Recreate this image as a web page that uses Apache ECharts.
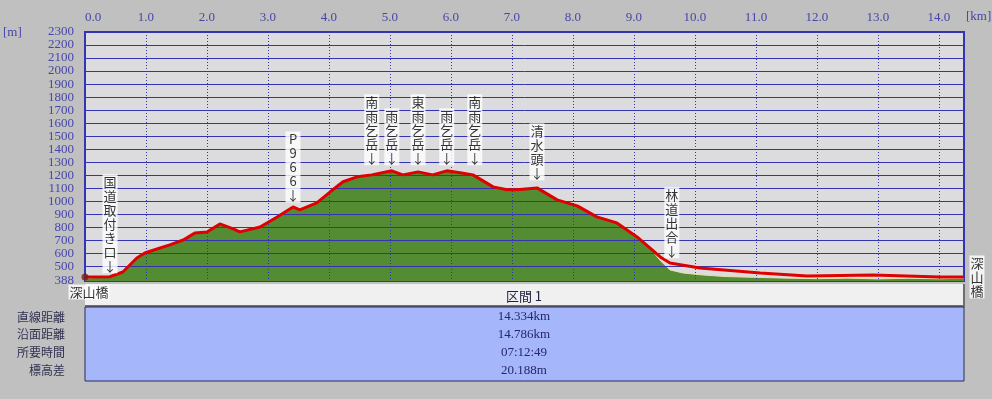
<!DOCTYPE html>
<html>
<head>
<meta charset="utf-8">
<script src="https://cdn.jsdelivr.net/npm/echarts@6.0.0/dist/echarts.min.js"></script>
<style>
html, body { margin: 0; padding: 0; background: #c0c0c0; }
#chart { width: 992px; height: 399px; }
</style>
</head>
<body>
<div id="chart"></div>
<script>
// 登山ルートの断面図 (距離 km / 標高 m)
const trackKm = [0, 0.41, 0.62, 0.85, 0.98, 1.18, 1.39, 1.61, 1.67, 1.80, 2.00, 2.21, 2.43, 2.54, 2.87, 3.15, 3.41, 3.52, 3.80, 4.02,
    4.23, 4.46, 4.70, 5.03, 5.21, 5.46, 5.70, 5.93, 6.15, 6.36, 6.69, 6.92, 7.08, 7.41, 7.74, 8.07, 8.39, 8.72, 9.05, 9.26,
    9.43, 9.59, 10.08, 11.07, 11.84, 12.92, 14.02, 14.41];
const trackEle = [419, 421, 457, 565, 603, 634, 665, 703, 719, 757, 765, 826, 788, 765, 803, 880, 957, 934, 988, 1073,
    1150, 1188, 1203, 1234, 1203, 1226, 1203, 1234, 1219, 1203, 1111, 1088, 1088, 1103, 1011, 965, 880, 834, 726, 642,
    573, 526, 488, 450, 426, 434, 419, 419];

// 地形 (緑) は 9.26km まで軌跡と同じ、その先は低い
const groundTailKm = [9.43, 9.59, 9.80, 10.08, 10.50, 11.07, 11.50, 12.00, 12.50, 13.00, 13.50, 14.00, 14.41];
const groundTailEle = [545, 473, 450, 436, 422, 415, 410, 406, 410, 404, 409, 405, 410];

const yTicks = [388, 500, 600, 700, 800, 900, 1000, 1100, 1200, 1300, 1400, 1500, 1600, 1700, 1800, 1900, 2000, 2100, 2200, 2300];

const annoNames = ['国道取付き口', 'P966', '南雨乞岳', '雨乞岳', '東雨乞岳', '雨乞岳', '南雨乞岳', '清水頭', '林道出合'];
const annoKm = [0.41, 3.41, 4.70, 5.03, 5.46, 5.93, 6.39, 7.41, 9.62];
const annoEle = [421, 957, 1203, 1234, 1226, 1234, 1203, 1103, 520];

const endNames = ['深山橋', '深山橋'];
const endKm = [0, 14.41];
const endEle = [419, 419];

const sectionName = '区間 1';
const statLabels = ['直線距離', '沿面距離', '所要時間', '標高差'];
const statValues = ['14.334km', '14.786km', '07:12:49', '20.188m'];

const chart = echarts.init(document.getElementById('chart'));

const trackData = trackKm.map((k, i) => [k, trackEle[i]]);
const cut = trackKm.indexOf(9.26) + 1;
const groundData = trackData.slice(0, cut).concat(groundTailKm.map((k, i) => [k, groundTailEle[i]]));
groundData[0] = [0, 410];

const axisColor = '#4646aa';
const lineBlue = '#3434b0';
const cjk = '"Noto Sans CJK JP", sans-serif';
const serif = '"Liberation Serif", serif';
// 矢印と線の間隔 (px)
const annoGap = [3, 4, 9, 5, 6, 5, 9, 7, 5];

const tagLabel = {
    show: true,
    fontFamily: cjk,
    fontSize: 13,
    lineHeight: 14,
    color: '#000',
    backgroundColor: '#ffffff',
    padding: [1, 1, 0, 1]
};

const option = {
    backgroundColor: '#c0c0c0',
    animation: false,
    grid: {
        left: 85,
        right: 28,
        top: 32,
        bottom: 118,
        show: true,
        backgroundColor: '#dcdcdf',
        borderColor: lineBlue,
        borderWidth: 2
    },
    xAxis: {
        type: 'value',
        position: 'top',
        min: 0,
        max: 14.41,
        interval: 1,
        z: 3,
        axisLine: { show: false },
        axisTick: { show: false },
        axisLabel: {
            color: axisColor,
            fontFamily: serif,
            fontSize: 13,
            margin: 8,
            showMaxLabel: false,
            alignMinLabel: 'left',
            formatter: v => (Math.abs(v - Math.round(v)) < 1e-6 ? v.toFixed(1) : '')
        },
        splitLine: { show: true, lineStyle: { color: lineBlue, width: 1, type: [1, 2] } }
    },
    yAxis: {
        type: 'value',
        min: 388,
        max: 2300,
        z: 3,
        axisLine: { show: false },
        axisTick: { show: false, customValues: yTicks },
        axisLabel: {
            customValues: yTicks,
            color: axisColor,
            fontFamily: serif,
            fontSize: 13,
            margin: 11,
            formatter: v => String(v)
        },
        splitLine: { show: true, lineStyle: { color: lineBlue, width: 1 } }
    },
    series: [
        {
            name: '地形',
            type: 'line',
            data: groundData,
            symbol: 'none',
            z: 2,
            lineStyle: { width: 1, color: '#e8e0b0' },
            areaStyle: { color: '#548c34', opacity: 1, origin: 'start' }
        },
        {
            name: '軌跡',
            type: 'line',
            data: trackData,
            symbol: 'none',
            z: 4,
            lineStyle: { width: 3, color: '#e00000' }
        },
        {
            name: '地点',
            type: 'scatter',
            z: 5,
            symbolSize: 1,
            itemStyle: { color: 'rgba(0,0,0,0)' },
            data: annoNames.map((n, i) => ({
                name: n,
                value: [annoKm[i], annoEle[i]],
                label: { distance: annoGap[i] }
            })),
            label: Object.assign({}, tagLabel, {
                position: 'top',
                formatter: p => p.name.split('').join('\n') + '\n↓'
            })
        },
        {
            name: '起終点',
            type: 'scatter',
            z: 6,
            data: [
                {
                    name: endNames[0], value: [endKm[0], endEle[0]],
                    symbol: 'circle', symbolSize: 7, itemStyle: { color: '#7a1a1a' },
                    label: { position: 'bottom', distance: 4, offset: [4, 0], formatter: p => p.name }
                },
                {
                    name: endNames[1], value: [endKm[1], endEle[1]],
                    symbolSize: 1, itemStyle: { color: 'rgba(0,0,0,0)' },
                    label: { position: 'right', distance: 5, formatter: p => p.name.split('').join('\n') }
                }
            ],
            label: tagLabel
        }
    ],
    graphic: [
        { type: 'text', left: 3, top: 26, style: { text: '[m]', fill: axisColor, font: '13px ' + serif } },
        { type: 'text', left: 966, top: 10, style: { text: '[km]', fill: axisColor, font: '13px ' + serif } },
        { type: 'rect', shape: { x: 85, y: 284, width: 879, height: 22 }, style: { fill: '#f0f0f0' } },
        { type: 'polyline', shape: { points: [[85, 306], [964, 306], [964, 284]] }, style: { stroke: '#6e6e6e', lineWidth: 2, fill: null } },
        {
            type: 'text', x: 524, y: 296,
            style: { text: sectionName, fill: '#202040', font: '13px ' + cjk, align: 'center', verticalAlign: 'middle' }
        },
        { type: 'rect', shape: { x: 85, y: 307, width: 879, height: 74 }, style: { fill: '#a5b6fb', stroke: '#2a2a60', lineWidth: 1 } }
    ].concat(statLabels.map((s, i) => ({
        type: 'text', x: 65, y: 317 + i * 17.7,
        style: { text: s, fill: '#303050', font: '12px ' + cjk, align: 'right', verticalAlign: 'middle' }
    }))).concat(statValues.map((s, i) => ({
        type: 'text', x: 524, y: 317 + i * 17.7,
        style: { text: s, fill: '#26266a', font: '13px ' + serif, align: 'center', verticalAlign: 'middle' }
    })))
};

chart.setOption(option);
</script>
</body>
</html>
